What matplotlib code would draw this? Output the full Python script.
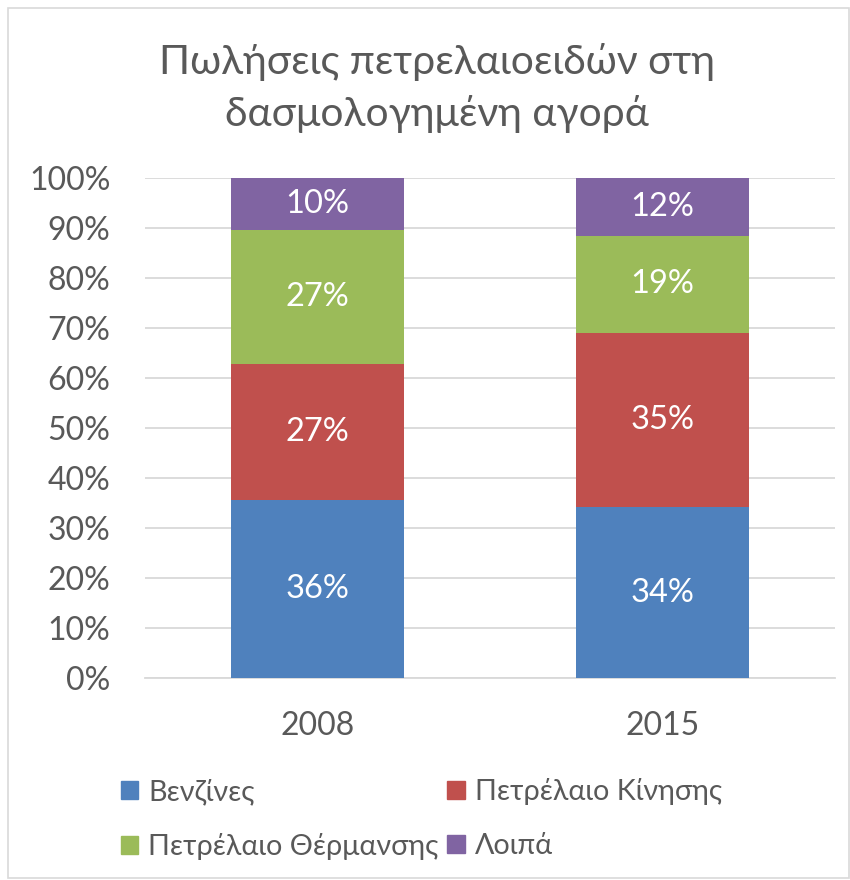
import matplotlib.pyplot as plt
import matplotlib.patches as mpatches
import numpy as np

plt.rcParams['font.family'] = ['Lato', 'Open Sans', 'DejaVu Sans']

years = ["2008", "2015"]
series = ["Βενζίνες", "Πετρέλαιο Κίνησης", "Πετρέλαιο Θέρμανσης", "Λοιπά"]
benzines = [35.6, 34.2]
kinisis = [27.2, 34.9]
thermansis = [26.8, 19.3]
loipa = [10.4, 11.6]
colors = ["#4f81bd", "#c0504d", "#9bbb59", "#8064a2"]

values = [benzines, kinisis, thermansis, loipa]

fig = plt.figure(figsize=(8.5, 8.8), dpi=100)
fig.patches.append(mpatches.Rectangle((0.009, 0.002), 0.99, 0.989, transform=fig.transFigure,
                                      fill=False, edgecolor="#d9d9d9", lw=1.2))
ax = fig.add_axes([145 / 850, 1 - 678 / 880, 690 / 850, 500 / 880])

x = np.arange(len(years))
bottom = np.zeros(len(years))
for name, vals, c in zip(series, values, colors):
    vals = np.array(vals)
    ax.bar(x, vals, 0.5, bottom=bottom, color=c, label=name, zorder=3)
    for xi, b, v in zip(x, bottom, vals):
        ax.text(xi, b + v / 2, f"{round(v):.0f}%", ha="center", va="center",
                color="white", fontsize=23.5, zorder=4)
    bottom += vals

ax.set_xlim(-0.5, 1.5)
ax.set_ylim(0, 100)
ax.set_yticks(np.arange(0, 101, 10))
ax.set_yticklabels([f"{t}%" for t in range(0, 101, 10)])
ax.set_xticks(x)
ax.set_xticklabels(years)
ax.grid(axis="y", color="#d9d9d9", lw=1.3, zorder=0)
for s in ["top", "right", "left"]:
    ax.spines[s].set_visible(False)
ax.spines["bottom"].set_color("#d9d9d9")
ax.spines["bottom"].set_linewidth(1.3)
ax.tick_params(length=0, labelsize=23, labelcolor="#595959")
ax.tick_params(axis="y", pad=25)
ax.tick_params(axis="x", pad=24)

fig.text(437 / 850, 1 - 88 / 880, "Πωλήσεις πετρελαιοειδών στη\nδασμολογημένη αγορά",
         ha="center", va="center", fontsize=29.3, color="#595959", linespacing=1.44)

# legend is filled column by column, so reorder to read row by row
order = [0, 2, 1, 3]
handles = [mpatches.Patch(color=colors[i]) for i in order]
labels = [series[i] for i in order]
fig.legend(handles, labels, loc="upper left", bbox_to_anchor=(121 / 850, 1 - 778 / 880), ncol=2,
           frameon=False, fontsize=20.7, labelcolor="#595959", handlelength=0.6,
           handleheight=0.6, handletextpad=0.35, columnspacing=0.3, labelspacing=0.99,
           borderpad=0, borderaxespad=0)

fig.savefig("out.png", dpi=100)
